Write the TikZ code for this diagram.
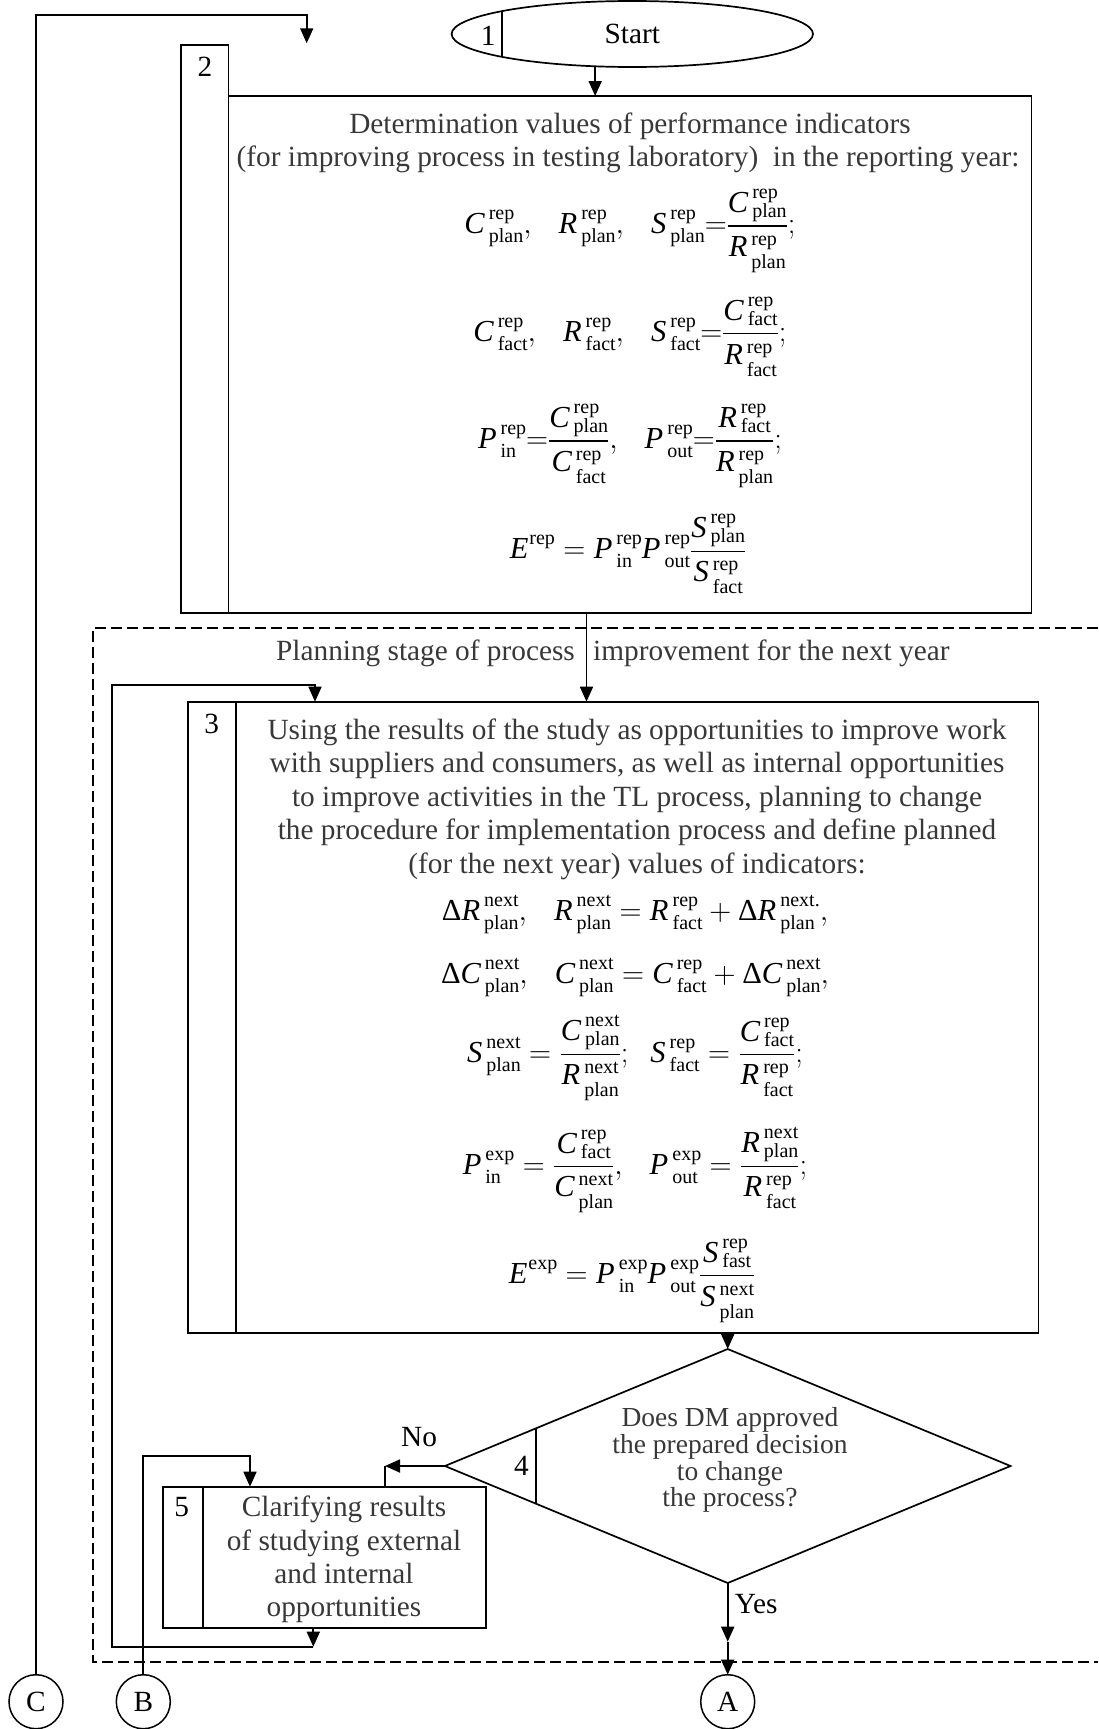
\RequirePackage{fix-cm}
\documentclass[tikz,border=0pt]{standalone}
\usepackage{amsmath}
\usepackage{fontspec}
\setmainfont{Liberation Serif}
\usetikzlibrary{arrows.meta,shapes.geometric,calc}
\definecolor{txtgray}{gray}{0.22}
\newcommand\fs{\fontsize{29.3}{33.4}\selectfont}
\newcommand\ff{\fontsize{30.5}{33.4}\selectfont}
\newcommand\fd{\fontsize{27.5}{26.7}\selectfont}
\newcommand\myit[1]{\textit{#1}}
% stacked super/subscript: #1 raise, #2 lower, #3 sup, #4 sub
\newcommand\stk[4]{\mbox{\fontsize{20}{20}\selectfont
  \setbox0=\hbox{\raise#1\hbox{#3}}\setbox2=\hbox{\lower#2\hbox{#4}}%
  \ifdim\wd0>\wd2 \rlap{\box2}\box0 \else\rlap{\box0}\box2 \fi}}
\newcommand\VV[3]{\myit{#1}\hspace{4pt}\stk{14pt}{9pt}{#2}{#3}}
\newcommand\VN[3]{\myit{#1}\hspace{4pt}\stk{14pt}{5pt}{#2}{#3}}
\newcommand\VD[3]{\myit{#1}\hspace{4pt}\stk{11pt}{12pt}{#2}{#3}}
\newcommand\VE[2]{\myit{#1}\hspace{1pt}\stk{14pt}{0pt}{#2}{}}
\newcommand\FR[2]{\genfrac{}{}{1.2pt}{0}{#1}{\rule{0pt}{26pt}#2}}
\newcommand\gap{\hspace{22pt}}
\newcommand\Dl{\text{Δ}}
\tikzset{
  ln/.style={line width=1.7pt},
  arr/.style={line width=1.7pt,-{Triangle[length=15pt,width=13pt]}},
  boxst/.style={draw,line width=1.7pt,rectangle,inner sep=0pt,outer sep=0pt,anchor=north west},
  txt/.style={font=\fs,inner sep=0pt,anchor=base,text=txtgray},
  dtxt/.style={font=\fd,inner sep=0pt,anchor=base,text=txtgray},
  lbl/.style={font=\fs,inner sep=0pt,anchor=base},
  fml/.style={font=\ff,inner sep=0pt,anchor=base},
  conn/.style={circle,draw,line width=1.5pt,minimum size=54pt,inner sep=0pt,outer sep=0pt,font=\fs},
  dashedline/.style={line width=1.7pt,dash pattern=on 11pt off 5pt}
}
\begin{document}
\begin{tikzpicture}[x=1pt,y=-1pt]
\useasboundingbox (0,0) rectangle (1098,1729);

% ---- start ellipse
\node[ellipse,draw,line width=1.7pt,minimum width=361.4pt,minimum height=66pt,inner sep=0pt,outer sep=0pt,font=\fs] (start) at (632.3,34) {Start};
\draw[ln] (start.170) -- (start.190);
\node[lbl] (n1) at (488.3,45) {1};

% ---- box 2
\node[boxst,minimum width=47.5pt,minimum height=568pt] (b2n) at (181,45) {};
\node[boxst,minimum width=803pt,minimum height=517pt] (b2) at (228.5,96) {};
\node[lbl] (n2) at (205,76) {2};
\node[txt] (t2a) at (630,133.4) {Determination values of performance indicators};
\node[txt] (t2b) at (628,166.9) {(for improving process in testing laboratory)\ \ in the reporting year:};
\node[fml] (f2a) at (630,233.7) {$\VV{C}{rep}{plan},\gap \VV{R}{rep}{plan},\gap \VV{S}{rep}{plan}{=}\FR{\VN{C}{rep}{plan}}{\VD{R}{rep}{plan}};$};
\node[fml] (f2b) at (630,341.5) {$\VV{C}{rep}{fact},\gap \VV{R}{rep}{fact},\gap \VV{S}{rep}{fact}{=}\FR{\VN{C}{rep}{fact}}{\VD{R}{rep}{fact}};$};
\node[fml] (f2c) at (630,448.6) {$\VV{P}{rep}{in}{=}\FR{\VN{C}{rep}{plan}}{\VD{C}{rep}{fact}},\gap \VV{P}{rep}{out}{=}\FR{\VN{R}{rep}{fact}}{\VD{R}{rep}{plan}};$};
\node[fml] (f2d) at (628,558.8) {$\VE{E}{rep} = \VV{P}{rep}{in}\VV{P}{rep}{out}\FR{\VN{S}{rep}{plan}}{\VD{S}{rep}{fact}}$};

% ---- dashed planning region
\draw[dashedline] (1098,628.3) -- (92.7,628.3) -- (92.7,1661.7) -- (1098,1661.7);
\node[txt,anchor=base east] (pl1) at (575,660) {Planning stage of process};
\node[txt,anchor=base west] (pl2) at (593,660) {improvement for the next year};

% ---- box 3
\node[boxst,minimum width=47.4pt,minimum height=631pt] (b3n) at (188.3,701.7) {};
\node[boxst,minimum width=802.8pt,minimum height=631pt] (b3) at (235.7,701.7) {};
\node[lbl] (n3) at (211.7,733) {3};
\node[txt] (t3a) at (637,739) {Using the results of the study as opportunities to improve work};
\node[txt] (t3b) at (637,772.5) {with suppliers and consumers, as well as internal opportunities};
\node[txt] (t3c) at (637,806) {to improve activities in the TL process, planning to change};
\node[txt] (t3d) at (637,839.5) {the procedure for implementation process and define planned};
\node[txt] (t3e) at (637,873) {(for the next year) values of indicators:};
\node[fml] (f3a) at (635,920) {$\Dl\VV{R}{next}{plan},\gap \VV{R}{next}{plan} = \VV{R}{rep}{fact}+\Dl\VV{R}{next.}{plan},$};
\node[fml] (f3b) at (635,983.5) {$\Dl\VV{C}{next}{plan},\gap \VV{C}{next}{plan} = \VV{C}{rep}{fact}+\Dl\VV{C}{next}{plan},$};
\node[fml] (f3c) at (635,1062) {$\VV{S}{next}{plan} = \FR{\VN{C}{next}{plan}}{\VD{R}{next}{plan}};\;\; \VV{S}{rep}{fact} = \FR{\VN{C}{rep}{fact}}{\VD{R}{rep}{fact}};$};
\node[fml] (f3d) at (635,1174) {$\VV{P}{exp}{in} = \FR{\VN{C}{rep}{fact}}{\VD{C}{next}{plan}},\gap \VV{P}{exp}{out} = \FR{\VN{R}{next}{plan}}{\VD{R}{rep}{fact}};$};
\node[fml] (f3e) at (632,1283.5) {$\VE{E}{exp} = \VV{P}{exp}{in}\VV{P}{exp}{out}\FR{\VN{S}{rep}{fast}}{\VD{S}{next}{plan}}$};

% ---- decision diamond
\node[diamond,draw,line width=1.7pt,minimum width=565.6pt,minimum height=234pt,inner sep=0pt,outer sep=0pt] (dia) at (727.7,1466) {};
\draw[ln] ($(dia.west)!0.322!(dia.north)$) -- ($(dia.west)!0.322!(dia.south)$);
\node[lbl] (n4) at (521.4,1475) {4};
\node[dtxt] (d1) at (730,1426.7) {Does DM approved};
\node[dtxt] (d2) at (730,1453.4) {the prepared decision};
\node[dtxt] (d3) at (730,1480) {to change};
\node[dtxt] (d4) at (730,1506.7) {the process?};
\node[lbl] (no) at (419,1446.7) {No};
\node[lbl,anchor=base west] (yes) at (734.6,1613.3) {Yes};

% ---- box 5
\node[boxst,minimum width=40pt,minimum height=141.6pt] (b5n) at (162.7,1486.7) {};
\node[boxst,minimum width=283.3pt,minimum height=141.6pt] (b5) at (202.7,1486.7) {};
\node[lbl] (n5) at (181.7,1516.7) {5};
\node[txt] (t5a) at (344,1516.7) {Clarifying results};
\node[txt] (t5b) at (344,1550) {of studying external};
\node[txt] (t5c) at (344,1583.3) {and internal};
\node[txt] (t5d) at (344,1616.6) {opportunities};

% ---- connector circles
\node[conn] (C) at (36,1701.7) {C};
\node[conn] (B) at (143.3,1701.7) {B};
\node[conn] (A) at (727.7,1701.7) {A};

% ---- coordinates
\coordinate (cTop) at (306.7,15);
\coordinate (cEnd) at (306.7,43.3);
\coordinate (lpB) at (313.3,1646.7);
\coordinate (lpBL) at (112,1646.7);
\coordinate (lpTL) at (112,685);
\coordinate (lpT) at (315,685);
\coordinate (noC) at (385,1466);
\coordinate (bTop) at (250,1456);
\coordinate (ymid) at (727.7,1641.7);

% ---- connectors
\draw[arr] (C.north) |- (cTop) -- (cEnd);
\draw[arr] (start.221.4) -- (start.221.4 |- b2.north);
\draw[arr] ([xshift=358pt]b2.south west) -- ([xshift=350.8pt]b3.north west);
\draw[arr] (lpB |- b5.south) -- (lpB);
\draw[arr] (lpB) -- (lpBL) -- (lpTL) -- (lpT) -- (lpT |- b3.north);
\draw[arr] (b3.south -| dia.north) -- (dia.north);
\draw[arr] (dia.west) -- (noC);
\draw[ln] (noC) -- (noC |- b5.north);
\draw[arr] (B.north) |- (bTop) -- (bTop |- b5.north);
\draw[arr] (dia.south) -- (ymid);
\draw[arr] (ymid) -- (A.north);
\end{tikzpicture}
\end{document}
